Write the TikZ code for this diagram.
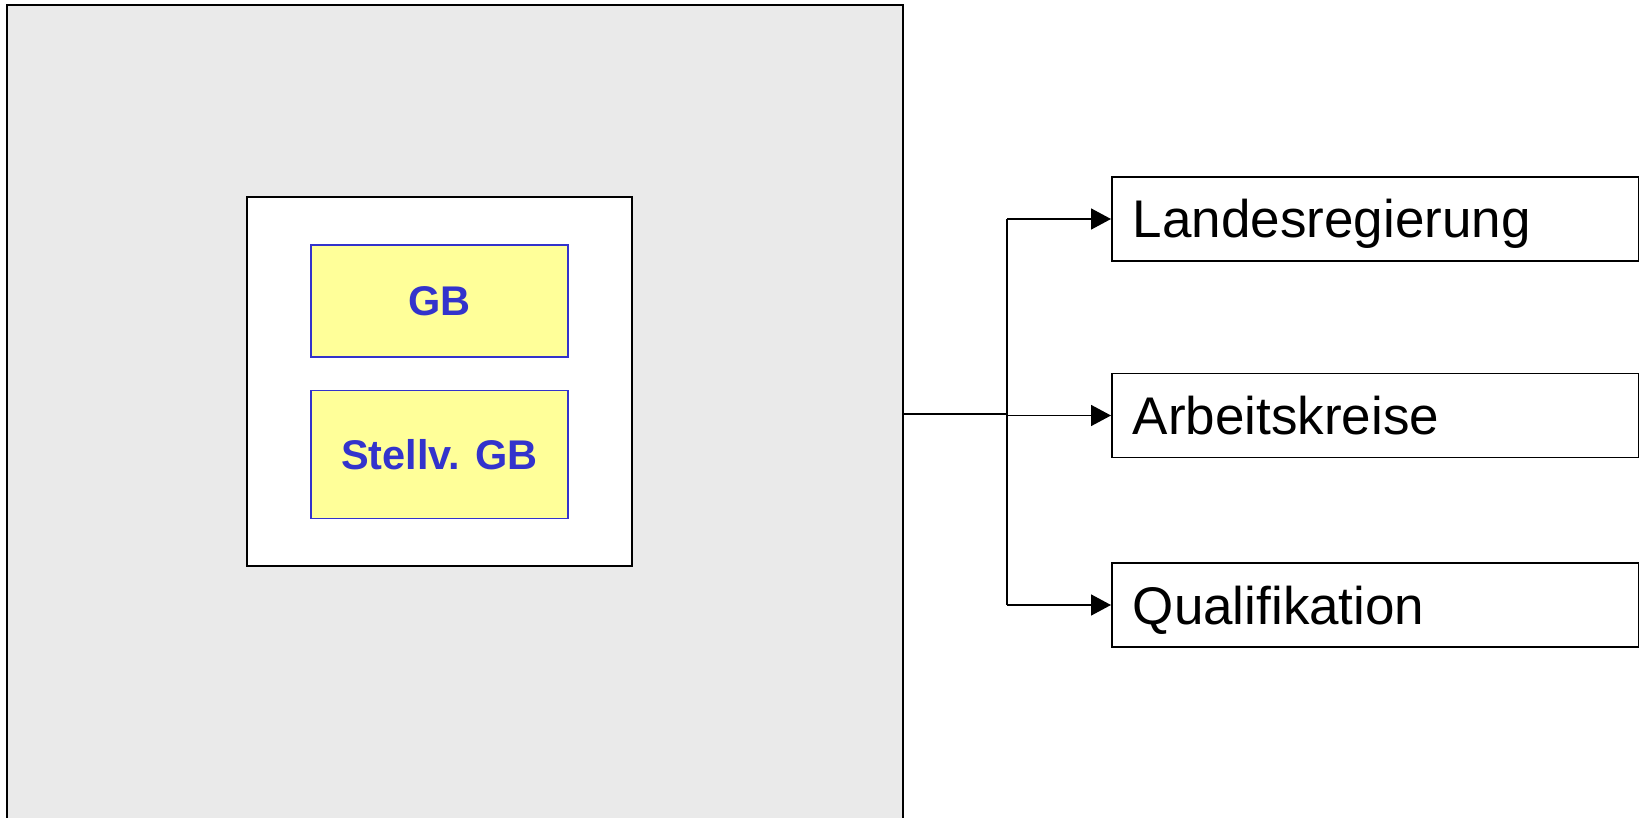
\documentclass[tikz,border=0pt]{standalone}
\usepackage{fontspec}
\setmainfont{Liberation Sans}
\usepackage{tikz}
\usetikzlibrary{arrows.meta, positioning}
\definecolor{grau}{RGB}{234, 234, 234}
\definecolor{gelb}{RGB}{255, 255, 153}
\definecolor{blau}{RGB}{51, 51, 204}
\tikzset{
    areanode/.style = {draw, rectangle, line width=1.6pt, inner sep=0pt},
    rolenode/.style = {draw=blau, fill=gelb, rectangle, line width=1.2pt, inner sep=0pt,
      minimum width=257pt, text height=29.7pt, text depth=0pt, text=blau,
      font=\fontsize{41.5}{48}\selectfont\bfseries},
    labelnode/.style = {draw, rectangle, fill=white, line width=1.6pt, anchor=west,
      minimum height=84pt, text width=485pt, text height=38pt, text depth=0pt,
      inner xsep=21pt, inner ysep=0pt, align=left, font=\fontsize{53}{60}\selectfont},
    line/.style = {black, line width=1.6pt},
    connect/.style = {black, line width=1.6pt, -{Triangle[length=20pt, width=21pt]}}
}

\begin{document}
\begin{tikzpicture}[x=1pt, y=-1pt]
    \useasboundingbox (0,0) rectangle (1639,818);

    \node[areanode, name=gremium, fill=grau, minimum width=896pt, minimum height=818pt] at (455,414) {};
    \node[areanode, name=vorstand, fill=white, minimum width=385pt, minimum height=369pt] at (439.5,381.5) {};
    \node[rolenode, name=gb, minimum height=112pt] at (439.5,301) {GB};
    \node[rolenode, name=stgb, below=32pt of gb, minimum height=128pt] {Stellv. GB};

    \node[labelnode, name=landesreg] at (1111,219) {Landesregierung};
    \node[labelnode, name=arbeitskr] at (1111,415.5) {Arbeitskreise};
    \node[labelnode, name=quali] at (1111,605) {Qualifikation};

    \coordinate (split) at (1007,414);
    \draw[line] (gremium.east) -- (split);
    \draw[line] (split |- landesreg.west) -- (split |- quali.west);
    \draw[connect] (split |- landesreg.west) -- (landesreg.west);
    \draw[connect] (split |- arbeitskr.west) -- (arbeitskr.west);
    \draw[connect] (split |- quali.west) -- (quali.west);
\end{tikzpicture}
\end{document}
